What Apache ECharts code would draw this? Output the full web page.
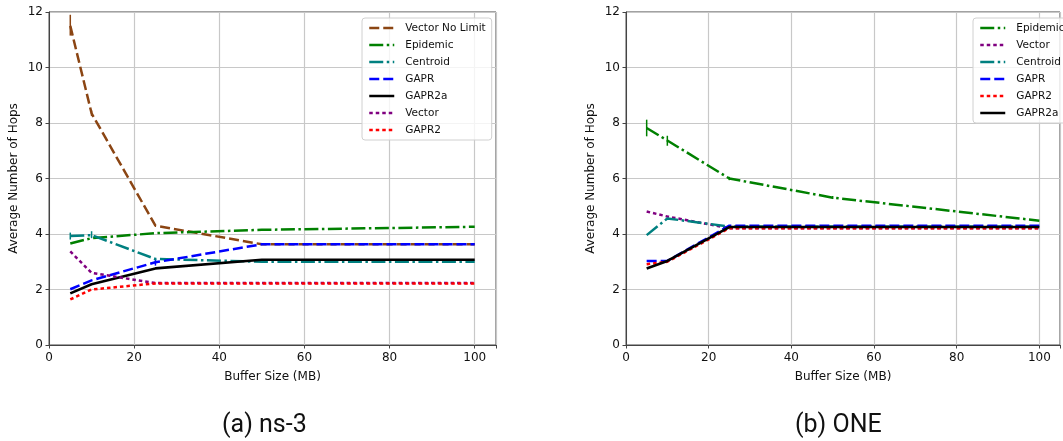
<!DOCTYPE html>
<html>
<head>
<meta charset="utf-8">
<script src="https://cdn.jsdelivr.net/npm/echarts@6/dist/echarts.min.js"></script>
<style>html,body{margin:0;padding:0;background:#fff;}#c{width:1063px;height:441px;}</style>
</head>
<body>
<div id="c"></div>
<script>
// ---- data ----
const bufferSizes = [5, 10, 25, 50, 100];
const xTicks = [0, 20, 40, 60, 80, 100];
const yTicks = [0, 2, 4, 6, 8, 10, 12];

// (a) ns-3
const ns3VectorNoLimit = [11.5, 8.35, 4.3, 3.63, 3.63];
const ns3Epidemic      = [3.66, 3.85, 4.03, 4.15, 4.26];
const ns3Centroid      = [3.93, 3.96, 3.1, 3.0, 3.0];
const ns3GAPR          = [2.01, 2.33, 2.98, 3.63, 3.63];
const ns3GAPR2a        = [1.86, 2.19, 2.76, 3.07, 3.07];
const ns3Vector        = [3.37, 2.6, 2.23, 2.23, 2.23];
const ns3GAPR2         = [1.64, 2.0, 2.22, 2.22, 2.22];

// (b) ONE
const oneEpidemic = [7.82, 7.37, 6.0, 5.31, 4.48];
const oneVector   = [4.81, 4.63, 4.21, 4.21, 4.21];
const oneCentroid = [3.96, 4.56, 4.27, 4.27, 4.27];
const oneGAPR     = [3.03, 3.03, 4.3, 4.3, 4.3];
const oneGAPR2    = [2.91, 3.0, 4.21, 4.21, 4.21];
const oneGAPR2a   = [2.76, 3.03, 4.25, 4.25, 4.25];

// error bars: [x, low, high]
const ns3ErrVectorNoLimit = [[5, 11.15, 11.9], [10, 8.25, 8.45]];
const ns3ErrCentroid = [[5, 3.8, 4.05], [10, 3.85, 4.1]];
const ns3ErrGAPR = [[25, 2.86, 3.1]];
const oneErrEpidemic = [[5, 7.52, 8.12], [10, 7.18, 7.54], [25, 5.94, 6.06], [50, 5.26, 5.37]];

const legendA = ['Vector No Limit', 'Epidemic', 'Centroid', 'GAPR', 'GAPR2a', 'Vector', 'GAPR2'];
const legendB = ['Epidemic', 'Vector', 'Centroid', 'GAPR', 'GAPR2', 'GAPR2a'];
const captions = ['(a) ns-3', '(b) ONE'];
const xName = 'Buffer Size (MB)';
const yName = 'Average Number of Hops';

// ---- styles ----
const styles = {
  'Vector No Limit': { color: '#8B4513', type: [10, 4], width: 2.5 },
  'Epidemic': { color: '#008000', type: [14, 3.5, 2.5, 3.5], width: 2.5 },
  'Centroid': { color: '#008080', type: [14, 3.5, 2.5, 3.5], width: 2.5 },
  'GAPR': { color: '#0000FF', type: [10, 4], width: 2.5 },
  'GAPR2a': { color: '#000000', type: 'solid', width: 2.6 },
  'Vector': { color: '#800080', type: [3.5, 3], width: 2.5 },
  'GAPR2': { color: '#FF0000', type: [3.5, 3], width: 2.5 }
};

function pairs(vals) { return bufferSizes.map((x, i) => [x, vals[i]]); }
function lineSeries(name, vals, idx) {
  const s = styles[name];
  return {
    name: name, type: 'line', xAxisIndex: idx, yAxisIndex: idx,
    data: pairs(vals), symbol: 'none', showSymbol: false, animation: false,
    color: s.color,
    lineStyle: { color: s.color, width: s.width, type: s.type, cap: 'butt' },
    emphasis: { disabled: true }
  };
}
function errSeries(name, data, idx) {
  const c = styles[name].color;
  return {
    name: name + ' err', type: 'custom', xAxisIndex: idx, yAxisIndex: idx,
    data: data, encode: { x: 0, y: [1, 2] }, animation: false, silent: true,
    renderItem: function (params, api) {
      const p1 = api.coord([api.value(0), api.value(1)]);
      const p2 = api.coord([api.value(0), api.value(2)]);
      return { type: 'line', shape: { x1: p1[0], y1: p1[1], x2: p2[0], y2: p2[1] },
               style: { stroke: c, lineWidth: 1.5 } };
    }
  };
}

const gridTop = 12, gridH = 333, gridW = 447;
const grids = [
  { left: 49, top: gridTop, width: gridW, height: gridH, show: true, borderColor: '#444', borderWidth: 1 },
  { left: 626, top: gridTop, width: gridW, height: gridH, show: true, borderColor: '#444', borderWidth: 1 }
];
const font = 'DejaVu Sans';
function xAxis(i) {
  return {
    type: 'value', gridIndex: i, min: 0, max: 105, interval: 20,
    name: xName, nameLocation: 'middle', nameGap: 26,
    nameTextStyle: { fontFamily: font, fontSize: 12, color: '#111' },
    axisLine: { show: true, onZero: false, lineStyle: { color: '#444', width: 1 } },
    axisTick: { show: true, length: 3.5, lineStyle: { color: '#444' } },
    axisLabel: { fontFamily: font, fontSize: 12, color: '#111', margin: 7,
      formatter: v => (xTicks.indexOf(v) >= 0 ? String(v) : '') },
    splitLine: { show: true, lineStyle: { color: '#c8c8c8', width: 1.2 } }
  };
}
function yAxis(i) {
  return {
    type: 'value', gridIndex: i, min: 0, max: 12, interval: 2,
    name: yName, nameLocation: 'middle', nameGap: 29, nameRotate: 90,
    nameTextStyle: { fontFamily: font, fontSize: 12, color: '#111' },
    axisLine: { show: true, onZero: false, lineStyle: { color: '#444', width: 1 } },
    axisTick: { show: true, length: 3.5, lineStyle: { color: '#444' } },
    axisLabel: { fontFamily: font, fontSize: 12, color: '#111', margin: 6,
      formatter: v => (yTicks.indexOf(v) >= 0 ? String(v) : '') },
    splitLine: { show: true, lineStyle: { color: '#c8c8c8', width: 1.2 } }
  };
}
function legend(data, left) {
  return {
    data: data, orient: 'vertical', left: left, top: 18,
    itemWidth: 25, itemHeight: 12, itemGap: 5,
    padding: [4, 6, 4, 6],
    backgroundColor: 'rgba(255,255,255,0.8)', borderColor: '#d0d0d0', borderWidth: 1, borderRadius: 3,
    textStyle: { fontFamily: font, fontSize: 10.5, color: '#111', lineHeight: 12, padding: [0, 0, 0, 6] },
    itemStyle: { color: 'rgba(0,0,0,0)', borderWidth: 0, opacity: 0 },
    lineStyle: { width: 2.5 },
    selectedMode: false
  };
}

const series = [
  lineSeries('Vector No Limit', ns3VectorNoLimit, 0),
  lineSeries('Epidemic', ns3Epidemic, 0),
  lineSeries('Centroid', ns3Centroid, 0),
  lineSeries('GAPR', ns3GAPR, 0),
  lineSeries('GAPR2a', ns3GAPR2a, 0),
  lineSeries('Vector', ns3Vector, 0),
  lineSeries('GAPR2', ns3GAPR2, 0),
  errSeries('Vector No Limit', ns3ErrVectorNoLimit, 0),
  errSeries('Centroid', ns3ErrCentroid, 0),
  errSeries('GAPR', ns3ErrGAPR, 0),
  lineSeries('Epidemic', oneEpidemic, 1),
  lineSeries('Vector', oneVector, 1),
  lineSeries('Centroid', oneCentroid, 1),
  lineSeries('GAPR', oneGAPR, 1),
  lineSeries('GAPR2', oneGAPR2, 1),
  lineSeries('GAPR2a', oneGAPR2a, 1),
  errSeries('Epidemic', oneErrEpidemic, 1)
];

const chart = echarts.init(document.getElementById('c'), null, { renderer: 'canvas' });
chart.setOption({
  backgroundColor: '#fff',
  animation: false,
  grid: grids,
  xAxis: [xAxis(0), xAxis(1)],
  yAxis: [yAxis(0), yAxis(1)],
  legend: [legend(legendA, 362), legend(legendB, 973)],
  series: series,
  graphic: [
    { type: 'text', left: 266 - 44, top: 413, style: { text: captions[0], font: '25px Roboto', fill: '#111' } },
    { type: 'text', left: 843 - 48, top: 413, style: { text: captions[1], font: '25px Roboto', fill: '#111' } }
  ]
});
</script>
</body>
</html>
